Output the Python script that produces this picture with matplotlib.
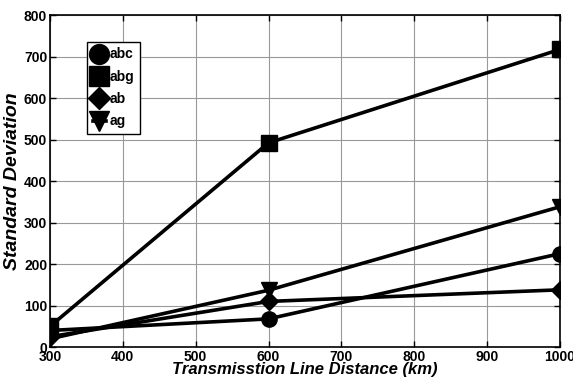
import matplotlib
matplotlib.use("Agg")
import matplotlib.pyplot as plt

distance = [300, 600, 1000]
abc = [40, 68, 225]
abg = [50, 492, 717]
ab = [25, 110, 138]
ag = [20, 137, 338]
series = [("abc", abc, "o"), ("abg", abg, "s"), ("ab", ab, "D"), ("ag", ag, "v")]
xticks = [300, 400, 500, 600, 700, 800, 900, 1000]
yticks = [0, 100, 200, 300, 400, 500, 600, 700, 800]

plt.rcParams['font.family'] = ['Liberation Sans', 'DejaVu Sans']
fig = plt.figure(figsize=(5.73, 3.9), dpi=100)
ax = fig.add_axes([0.0873, 0.110, 0.8897, 0.8515])

for name, vals, m in series:
    ms = 11 if m != "D" else 9
    ax.plot(distance, vals, color="black", lw=2.6, marker=m, markersize=ms, label=name)

ax.set_xlim(300, 1000)
ax.set_ylim(0, 800)
ax.set_xticks(xticks)
ax.set_yticks(yticks)
ax.grid(True, color="#999999", lw=0.8)
ax.tick_params(direction="in", top=True, right=True, labelsize=10, length=4, width=1, pad=2)
for lab in ax.get_xticklabels() + ax.get_yticklabels():
    lab.set_fontweight("bold")
for s in ax.spines.values():
    s.set_linewidth(1.2)

ax.set_xlabel("Transmisstion Line Distance (km)", fontsize=12, fontweight="bold", style="italic", labelpad=-1)
ax.set_ylabel("Standard Deviation", fontsize=14, fontweight="bold", style="italic", labelpad=2)

leg = ax.legend(loc="upper left", bbox_to_anchor=(0.0725, 0.919), fancybox=False, framealpha=1,
                edgecolor="black", handlelength=1.0, handletextpad=0.2, borderpad=0.4,
                labelspacing=0.6, markerscale=1.3, prop={"weight": "bold", "size": 10},
                borderaxespad=0)
leg.get_frame().set_linewidth(1.0)
for h in leg.legend_handles:
    h.set_linewidth(2.6)

fig.savefig("out.png", dpi=100)
